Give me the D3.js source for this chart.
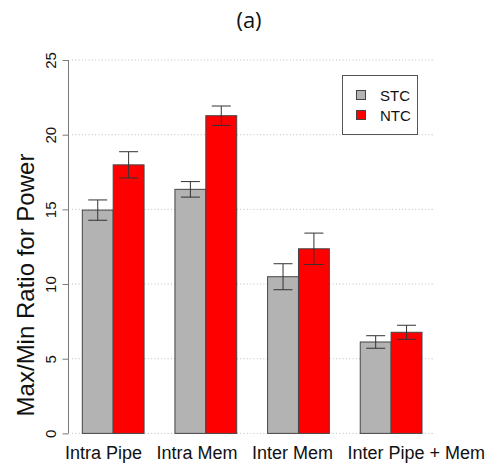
<!DOCTYPE html>
<html>
<head>
<meta charset="utf-8">
<script src="https://cdn.jsdelivr.net/npm/d3@7"></script>
<style>
  html, body { margin: 0; padding: 0; background: #fff; }
  svg { display: block; }
  text { font-family: "Liberation Sans", Arial, Helvetica, sans-serif; }
</style>
</head>
<body>
<svg id="chart" width="488" height="465"></svg>
<script>
// Workload categories and series
const categories = ["Intra Pipe", "Intra Mem", "Inter Mem", "Inter Pipe + Mem"];
const seriesNames = ["STC", "NTC"];
const seriesColors = ["#b3b3b3", "#ff0000"];

// Mean max/min power ratio per category
const stcValues = [14.95, 16.34, 10.49, 6.12];
const ntcValues = [17.98, 21.27, 12.36, 6.77];

// Half-widths of the error bars
const stcErrors = [0.68, 0.52, 0.87, 0.42];
const ntcErrors = [0.88, 0.65, 1.05, 0.47];

// Y axis ticks
const yTicks = [0, 5, 10, 15, 20, 25];

const svg = d3.select("#chart");

const y = d3.scaleLinear().domain([0, 25]).range([433.4, 60]);

const x0 = d3.scaleBand()
  .domain(categories)
  .range([82.3, 422])
  .paddingInner(1 / 3)
  .paddingOuter(0);

const x1 = d3.scaleBand()
  .domain(seriesNames)
  .range([0, x0.bandwidth()])
  .padding(0);

const color = d3.scaleOrdinal().domain(seriesNames).range(seriesColors);

// Dotted horizontal grid lines
svg.append("g")
  .selectAll("line")
  .data(yTicks)
  .join("line")
  .attr("x1", 72)
  .attr("x2", 435)
  .attr("y1", d => y(d))
  .attr("y2", d => y(d))
  .attr("stroke", "#bdbdbd")
  .attr("stroke-width", 1)
  .attr("stroke-dasharray", "1,2.3");

// Y axis (line spans the tick range only)
const yAxis = d3.axisLeft(y).tickValues(yTicks).tickSize(6).tickPadding(0).tickFormat(d3.format("d"));
const gy = svg.append("g").attr("transform", "translate(68.5,0)").call(yAxis);
gy.select(".domain").attr("stroke", "#7a7a7a").attr("d", `M0,${y(0)}V${y(25)}`);
gy.selectAll(".tick line").attr("stroke", "#7a7a7a");
gy.selectAll(".tick text")
  .attr("x", null).attr("y", null)
  .attr("transform", "translate(-13,0) rotate(-90)")
  .attr("text-anchor", "middle")
  .attr("dy", "0")
  .attr("fill", "#111")
  .style("font-size", "15px")
  .style("font-family", "'Liberation Sans', Arial, sans-serif");

// Bars
const rows = categories.map((c, i) => ({
  category: c,
  items: [
    { series: "STC", value: stcValues[i], err: stcErrors[i] },
    { series: "NTC", value: ntcValues[i], err: ntcErrors[i] }
  ]
}));

const groups = svg.append("g")
  .selectAll("g")
  .data(rows)
  .join("g")
  .attr("transform", d => `translate(${x0(d.category)},0)`);

groups.selectAll("rect")
  .data(d => d.items)
  .join("rect")
  .attr("x", d => x1(d.series))
  .attr("width", x1.bandwidth())
  .attr("y", d => y(d.value))
  .attr("height", d => y(0) - y(d.value))
  .attr("fill", d => color(d.series))
  .attr("stroke", "#444")
  .attr("stroke-width", 1);

// Error bars
const capHalf = 9.5;
const eb = groups.selectAll("g.err")
  .data(d => d.items)
  .join("g")
  .attr("class", "err")
  .attr("stroke", "#333")
  .attr("stroke-width", 1);

eb.append("line")
  .attr("x1", d => x1(d.series) + x1.bandwidth() / 2)
  .attr("x2", d => x1(d.series) + x1.bandwidth() / 2)
  .attr("y1", d => y(d.value - d.err))
  .attr("y2", d => y(d.value + d.err));
eb.append("line")
  .attr("x1", d => x1(d.series) + x1.bandwidth() / 2 - capHalf)
  .attr("x2", d => x1(d.series) + x1.bandwidth() / 2 + capHalf)
  .attr("y1", d => y(d.value + d.err))
  .attr("y2", d => y(d.value + d.err));
eb.append("line")
  .attr("x1", d => x1(d.series) + x1.bandwidth() / 2 - capHalf)
  .attr("x2", d => x1(d.series) + x1.bandwidth() / 2 + capHalf)
  .attr("y1", d => y(d.value - d.err))
  .attr("y2", d => y(d.value - d.err));

// Category labels: spread evenly between the left margin and the right edge
const labels = svg.append("g")
  .selectAll("text")
  .data(categories)
  .join("text")
  .attr("y", 459)
  .attr("text-anchor", "start")
  .attr("fill", "#111")
  .style("font-size", "18px")
  .text(d => d);

const labelLeft = 65, labelRight = 485;
const widths = labels.nodes().map(n => n.getComputedTextLength());
const gap = (labelRight - labelLeft - d3.sum(widths)) / (categories.length - 1);
let cursor = labelLeft;
labels.attr("x", (d, i) => {
  const xPos = cursor;
  cursor += widths[i] + gap;
  return xPos;
});

// Y axis title
svg.append("text")
  .attr("transform", "translate(34,285) rotate(-90)")
  .attr("text-anchor", "middle")
  .attr("fill", "#111")
  .style("font-size", "24px")
  .text("Max/Min Ratio for Power");

// Panel title
svg.append("text")
  .attr("x", 249)
  .attr("y", 28)
  .attr("text-anchor", "middle")
  .attr("fill", "#111")
  .style("font-family", "'Open Sans', sans-serif")
  .style("font-size", "22px")
  .text("(a)");

// Legend
const legend = svg.append("g");
legend.append("rect")
  .attr("x", 342.5).attr("y", 75.5)
  .attr("width", 75).attr("height", 59)
  .attr("fill", "#fff")
  .attr("stroke", "#555")
  .attr("stroke-width", 1);

const legendItems = legend.selectAll("g.item")
  .data(seriesNames)
  .join("g")
  .attr("class", "item")
  .attr("transform", (d, i) => `translate(0,${95 + i * 20})`);

legendItems.append("rect")
  .attr("x", 356.5).attr("y", -4.5)
  .attr("width", 9).attr("height", 9)
  .attr("fill", d => color(d))
  .attr("stroke", "#444")
  .attr("stroke-width", 1);

legendItems.append("text")
  .attr("x", 380)
  .attr("y", 5.5)
  .attr("fill", "#111")
  .style("font-size", "15px")
  .text(d => d);
</script>
</body>
</html>
